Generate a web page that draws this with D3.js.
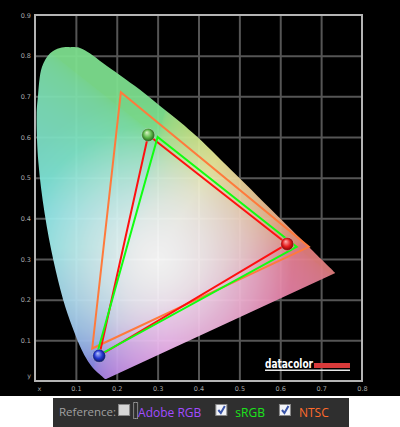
<!DOCTYPE html>
<html>
<head>
<meta charset="utf-8">
<script src="https://cdn.jsdelivr.net/npm/d3@7/dist/d3.min.js"></script>
<style>
  body { margin: 0; background: #fff; }
  svg { display: block; }
</style>
</head>
<body>
<div id="chart"></div>
<script>
// spectral locus, blue end -> red end
var locusX = [0.1741, 0.1736, 0.1726, 0.1714, 0.1689, 0.1644, 0.1566, 0.1440, 0.1355, 0.1241, 0.1096, 0.0913,
  0.0687, 0.0454, 0.0235, 0.0082, 0.0040, 0.0070, 0.0170, 0.0370, 0.0610, 0.0860, 0.1100, 0.1340, 0.1660,
  0.2080, 0.2570, 0.3060, 0.3550, 0.3960, 0.4441, 0.4788, 0.5125, 0.5448, 0.5752, 0.6029, 0.6270, 0.6482,
  0.6658, 0.6801, 0.6915, 0.7006, 0.7079, 0.7140, 0.7190, 0.7230, 0.7260, 0.7300, 0.7320, 0.7347];
var locusY = [0.0050, 0.0049, 0.0048, 0.0051, 0.0069, 0.0109, 0.0177, 0.0297, 0.0399, 0.0578, 0.0868, 0.1327,
  0.2007, 0.2950, 0.4127, 0.5384, 0.6548, 0.6980, 0.7720, 0.8060, 0.8190, 0.8210, 0.8190, 0.8060, 0.7820,
  0.7520, 0.7160, 0.6760, 0.6370, 0.6010, 0.5547, 0.5202, 0.4866, 0.4544, 0.4242, 0.3965, 0.3725, 0.3514,
  0.3340, 0.3197, 0.3083, 0.2993, 0.2920, 0.2859, 0.2809, 0.2770, 0.2740, 0.2700, 0.2680, 0.2653];

var xTicks = [0, 0.1, 0.2, 0.3, 0.4, 0.5, 0.6, 0.7, 0.8];
var xTickLabels = ["x", "0.1", "0.2", "0.3", "0.4", "0.5", "0.6", "0.7", "0.8"];
var yTicks = [0, 0.1, 0.2, 0.3, 0.4, 0.5, 0.6, 0.7, 0.8, 0.9];
var yTickLabels = ["y", "0.1", "0.2", "0.3", "0.4", "0.5", "0.6", "0.7", "0.8", "0.9"];

// primaries R, G, B
var ntscX = [0.67, 0.21, 0.14], ntscY = [0.33, 0.71, 0.08];
var srgbX = [0.64, 0.30, 0.15], srgbY = [0.33, 0.60, 0.06];
var measuredX = [0.617, 0.277, 0.157], measuredY = [0.337, 0.605, 0.062];

var legendLabels = ["Adobe RGB", "sRGB", "NTSC"];
var legendChecked = [false, true, true];
var legendColors = ["#a24cff", "#1be41b", "#ff6b2c"];

var W = 400, H = 427;
var svg = d3.select("#chart").append("svg").attr("width", W).attr("height", H);
var defs = svg.append("defs");

svg.append("rect").attr("width", W).attr("height", 396).attr("fill", "#000");

var x = d3.scaleLinear().domain([0, 0.8]).range([35, 362]);
var y = d3.scaleLinear().domain([0, 0.9]).range([381, 15]);

// grid
svg.append("g")
  .attr("class", "grid")
  .attr("transform", "translate(0," + y(0) + ")")
  .call(d3.axisBottom(x).tickValues(xTicks.slice(1, -1)).tickSize(-(y(0) - y(0.9))).tickFormat(""));
svg.append("g")
  .attr("class", "grid")
  .attr("transform", "translate(" + x(0) + ",0)")
  .call(d3.axisLeft(y).tickValues(yTicks.slice(1, -1)).tickSize(-(x(0.8) - x(0))).tickFormat(""));
svg.selectAll(".grid .domain").remove();
svg.selectAll(".grid line").attr("stroke", "#555").attr("stroke-width", 2);

// horseshoe
var locus = d3.range(locusX.length).map(function (i) { return [locusX[i], locusY[i]]; });
var locusLine = d3.line()
  .x(function (d) { return x(d[0]); })
  .y(function (d) { return y(d[1]); })
  .curve(d3.curveCatmullRom);

defs.append("clipPath").attr("id", "horseshoe")
  .append("path").attr("d", locusLine(locus) + "Z");

// colour field for the horseshoe, painted on a canvas (pale, white in the middle)
var px0 = Math.floor(x(0)), py0 = Math.floor(y(0.9));
var cw = Math.ceil(x(0.8)) - px0, ch = Math.ceil(y(0)) - py0;
var canvas = document.createElement("canvas");
canvas.width = cw; canvas.height = ch;
var ctx = canvas.getContext("2d");
var img = ctx.createImageData(cw, ch);
for (var j = 0; j < ch; j++) {
  for (var i = 0; i < cw; i++) {
    var cx = x.invert(px0 + i + 0.5), cy = y.invert(py0 + j + 0.5);
    if (cy < 0.002) cy = 0.002;
    var X = cx / cy, Y = 1, Z = (1 - cx - cy) / cy;
    var r = 3.2406 * X - 1.5372 * Y - 0.4986 * Z;
    var g = -0.9689 * X + 1.8758 * Y + 0.0415 * Z;
    var b = 0.0557 * X - 0.2040 * Y + 1.0570 * Z;
    r = Math.max(r, 0); g = Math.max(g, 0); b = Math.max(b, 0);
    var m = Math.max(r, g, b);
    r = Math.pow(r / m, 1 / 2.2); g = Math.pow(g / m, 1 / 2.2); b = Math.pow(b / m, 1 / 2.2);
    b = Math.min(1, b + 0.18 * Math.max(0, g - r));
    var d = Math.hypot(cx - 0.3, cy - 0.3);
    var sat = 0.44 * Math.min(1, Math.pow(d / 0.33, 1.5));
    var bright = 1 - 0.12 * Math.min(1, d / 0.4);
    var k = (j * cw + i) * 4;
    img.data[k] = 255 * bright * (1 - sat * (1 - r));
    img.data[k + 1] = 255 * bright * (1 - sat * (1 - g));
    img.data[k + 2] = 255 * bright * (1 - sat * (1 - b));
    img.data[k + 3] = 255;
  }
}
ctx.putImageData(img, 0, 0);

svg.append("image")
  .attr("href", canvas.toDataURL())
  .attr("x", px0).attr("y", py0)
  .attr("width", cw).attr("height", ch)
  .attr("preserveAspectRatio", "none")
  .attr("clip-path", "url(#horseshoe)")
  .attr("opacity", 0.94);

// frame
svg.append("rect")
  .attr("x", x(0)).attr("y", y(0.9))
  .attr("width", x(0.8) - x(0)).attr("height", y(0) - y(0.9))
  .attr("fill", "none").attr("stroke", "#b4b4b4").attr("stroke-width", 2);

// tick labels
var xAxis = svg.append("g")
  .attr("transform", "translate(0," + y(0) + ")")
  .call(d3.axisBottom(x).tickValues(xTicks).tickSize(0).tickPadding(5)
    .tickFormat(function (d, i) { return xTickLabels[i]; }));
var yAxis = svg.append("g")
  .attr("transform", "translate(" + x(0) + ",0)")
  .call(d3.axisLeft(y).tickValues(yTicks).tickSize(0).tickPadding(4)
    .tickFormat(function (d, i) { return yTickLabels[i]; }));
svg.selectAll(".domain").remove();
[xAxis, yAxis].forEach(function (a) {
  a.selectAll("text").attr("fill", "#a8a8a8").style("font", "6.5px 'DejaVu Sans'");
});
xAxis.select(".tick text").attr("dx", 4);
yAxis.select(".tick text").attr("dy", -4);

// gamut triangles
function tri(xs, ys) {
  return d3.range(3).map(function (i) { return [xs[i], ys[i]]; });
}
var triLine = d3.line().x(function (d) { return x(d[0]); }).y(function (d) { return y(d[1]); });
var gamuts = [
  { pts: tri(ntscX, ntscY), color: "#ff7a3c" },
  { pts: tri(measuredX, measuredY), color: "#ff1010" },
  { pts: tri(srgbX, srgbY), color: "#10ff10" }
];
svg.selectAll(".gamut").data(gamuts).enter().append("path")
  .attr("class", "gamut")
  .attr("d", function (d) { return triLine(d.pts) + "Z"; })
  .attr("fill", "none")
  .attr("stroke", function (d) { return d.color; })
  .attr("stroke-width", 2)
  .attr("stroke-linejoin", "miter");

// measured primaries as glossy balls
var ballColors = [["#ffb0b0", "#e41d1d", "#6a0000"], ["#dcf5c8", "#5cb848", "#1a4a10"], ["#b8c4ff", "#2236d0", "#08104a"]];
ballColors.forEach(function (c, i) {
  var gr = defs.append("radialGradient").attr("id", "ball" + i)
    .attr("cx", "50%").attr("cy", "50%").attr("r", "55%").attr("fx", "38%").attr("fy", "30%");
  gr.append("stop").attr("offset", "0%").attr("stop-color", c[0]);
  gr.append("stop").attr("offset", "55%").attr("stop-color", c[1]);
  gr.append("stop").attr("offset", "100%").attr("stop-color", c[2]);
});
svg.selectAll(".ball").data(d3.range(3)).enter().append("circle")
  .attr("class", "ball")
  .attr("cx", function (i) { return x(measuredX[i]); })
  .attr("cy", function (i) { return y(measuredY[i]); })
  .attr("r", 6.5)
  .attr("fill", function (i) { return "url(#ball" + i + ")"; })
  .attr("stroke", "rgba(255,255,255,0.35)")
  .attr("stroke-width", 0.8);

// datacolor mark
svg.append("text").attr("x", 265).attr("y", 367.5)
  .attr("fill", "#fff").attr("textLength", 48).attr("lengthAdjust", "spacingAndGlyphs")
  .style("font", "bold 11.5px 'DejaVu Sans'").text("datacolor");
svg.append("rect").attr("x", 314).attr("y", 363).attr("width", 36).attr("height", 5).attr("fill", "#d93a3a");
svg.append("rect").attr("x", 265).attr("y", 369.5).attr("width", 85).attr("height", 1.5).attr("fill", "#e8e8e8");

// reference bar
svg.append("rect").attr("x", 53).attr("y", 398).attr("width", 296).attr("height", 29).attr("fill", "#2f2f2f");
var lg = svg.append("g").style("font", "12px 'Open Sans'");
var ref = lg.append("text").attr("x", 59).attr("y", 416).attr("fill", "#a0a0a0")
  .style("font-size", "11.5px").text("Reference:");
var cur = 59 + ref.node().getComputedTextLength() + 2;
legendLabels.forEach(function (lab, i) {
  lg.append("rect").attr("x", cur + 0.5).attr("y", 404.5).attr("width", 11).attr("height", 11)
    .attr("fill", legendChecked[i] ? "#f2f4f8" : "#d8d8d8").attr("stroke", "#8a8a8a");
  if (legendChecked[i]) {
    lg.append("path")
      .attr("d", "M" + (cur + 3) + ",410 L" + (cur + 5.5) + ",413 L" + (cur + 9.5) + ",406")
      .attr("fill", "none").attr("stroke", "#3a55a8").attr("stroke-width", 2);
  }
  cur += 15;
  if (i === 0) {
    lg.append("rect").attr("x", cur + 0.5).attr("y", 402.5).attr("width", 4).attr("height", 16)
      .attr("fill", "none").attr("stroke", "#ddd").attr("stroke-dasharray", "1,1");
    cur += 5;
  } else {
    cur += 5;
  }
  var t = lg.append("text").attr("x", cur).attr("y", 417).attr("fill", legendColors[i]).text(lab);
  cur += t.node().getComputedTextLength() + 14;
});
</script>
</body>
</html>
